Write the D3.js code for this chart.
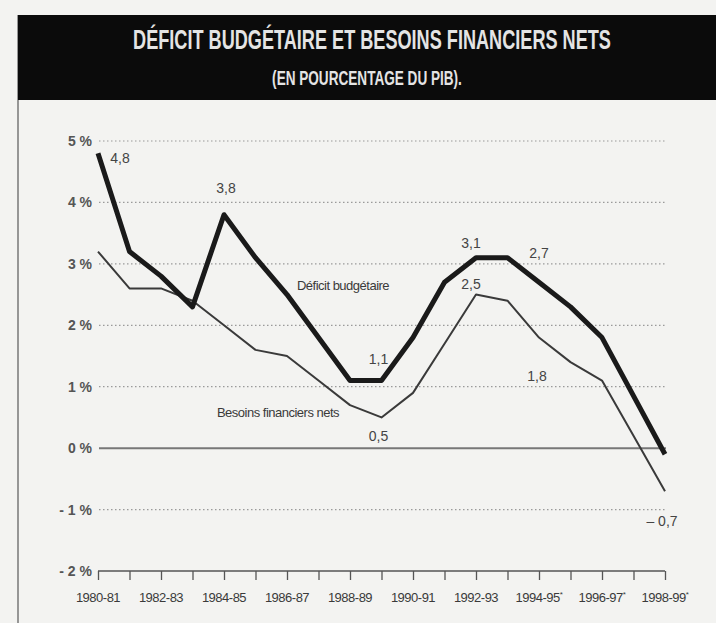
<!DOCTYPE html>
<html lang="fr">
<head>
<meta charset="UTF-8">
<title>Déficit budgétaire et besoins financiers nets</title>
<script src="https://d3js.org/d3.v7.min.js"></script>
<style>
  body { margin: 0; background: #f3f3f1; }
  svg { display: block; }
  .lbl { font-family: "Liberation Sans Narrow", "Arial Narrow", "Liberation Sans", sans-serif; fill: #3a3a3a; }
</style>
</head>
<body>
<div id="chart"></div>
<script>
const periods = ["1980-81","1981-82","1982-83","1983-84","1984-85","1985-86","1986-87","1987-88","1988-89","1989-90",
                 "1990-91","1991-92","1992-93","1993-94","1994-95","1995-96","1996-97","1997-98","1998-99"];
const provisional = ["1994-95","1996-97","1998-99"];
const deficit = [4.8, 3.2, 2.8, 2.3, 3.8, 3.1, 2.5, 1.8, 1.1, 1.1, 1.8, 2.7, 3.1, 3.1, 2.7, 2.3, 1.8, 0.85, -0.1];
const besoins = [3.2, 2.6, 2.6, 2.4, 2.0, 1.6, 1.5, 1.1, 0.7, 0.5, 0.9, 1.7, 2.5, 2.4, 1.8, 1.4, 1.1, 0.2, -0.7];
const yTicks = [5, 4, 3, 2, 1, 0, -1, -2];
// value labels: [period, value, text]
const deficitLabels = [["1980-81", 4.8, "4,8"], ["1984-85", 3.8, "3,8"], ["1989-90", 1.1, "1,1"], ["1992-93", 3.1, "3,1"], ["1994-95", 2.7, "2,7"]];
const besoinsLabels = [["1989-90", 0.5, "0,5"], ["1992-93", 2.5, "2,5"], ["1994-95", 1.8, "1,8"], ["1998-99", -0.7, "– 0,7"]];

const w = 716, h = 623;
const svg = d3.select("#chart").append("svg").attr("width", w).attr("height", h);

// left border of the page
svg.append("line").attr("x1", 18).attr("x2", 18).attr("y1", 15).attr("y2", h)
   .attr("stroke", "#777").attr("stroke-width", 1.5);

// title bar, condensed headline squeezed to the width seen in the print
svg.append("rect").attr("x", 18).attr("y", 15).attr("width", w - 18).attr("height", 85).attr("fill", "#0b0b0b");
function squeezed(txt, cx, cy, size, width) {
  const g = svg.append("g");
  const t = g.append("text").attr("class", "lbl").attr("x", 0).attr("y", 0)
    .attr("text-anchor", "middle").style("font-size", size + "px").style("font-weight", "bold")
    .style("fill", "#e4e4e4").text(txt);
  const sx = width / t.node().getComputedTextLength();
  g.attr("transform", "translate(" + cx + "," + cy + ") scale(" + sx + ",1)");
}
squeezed("DÉFICIT BUDGÉTAIRE ET BESOINS FINANCIERS NETS", 372, 49, 28, 478);
squeezed("(EN POURCENTAGE DU PIB).", 367, 85, 20, 190);

const x = d3.scalePoint().domain(periods).range([98, 665]);
const y = d3.scaleLinear().domain([-2, 5]).range([571, 141]);

// gridlines
svg.append("g").selectAll("line")
  .data(yTicks.filter(d => d !== 0 && d !== -2))
  .join("line")
  .attr("x1", 99).attr("x2", 666)
  .attr("y1", d => y(d)).attr("y2", d => y(d))
  .attr("stroke", "#9a9a9a").attr("stroke-width", 1.2).attr("stroke-dasharray", "1.5,2.5");

svg.append("line").attr("x1", 99).attr("x2", 666).attr("y1", y(0)).attr("y2", y(0))
   .attr("stroke", "#777").attr("stroke-width", 2);

// y labels
svg.append("g").selectAll("text").data(yTicks).join("text")
  .attr("class", "lbl").attr("x", 92).attr("y", d => y(d) + 5)
  .attr("text-anchor", "end").style("font-size", "14px").style("font-weight", "bold").style("fill", "#555")
  .text(d => (d < 0 ? "- " + Math.abs(d) : d) + " %");

// x axis
const xAxis = d3.axisBottom(x).tickSize(9).tickFormat("");
const gx = svg.append("g").attr("transform", "translate(0," + y(-2) + ")").call(xAxis);
gx.select(".domain").attr("d", "M98,0H665").attr("stroke", "#555").attr("stroke-width", 1.5);
gx.selectAll(".tick line").attr("stroke", "#555").attr("stroke-width", 1.3);

const xl = svg.append("g").selectAll("text")
  .data(periods.filter((d, i) => i % 2 === 0))
  .join("text")
  .attr("class", "lbl").attr("x", d => x(d)).attr("y", 602)
  .attr("text-anchor", "middle").style("font-size", "13px").style("letter-spacing", "-0.5px");
xl.append("tspan").text(d => d);
xl.filter(d => provisional.includes(d)).append("tspan")
  .attr("dy", -5).style("font-size", "8px").text("*");

// lines
const line = d3.line().x((d, i) => x(periods[i])).y(d => y(d));
svg.append("path").datum(besoins).attr("d", line)
   .attr("fill", "none").attr("stroke", "#3a3a3a").attr("stroke-width", 2).attr("stroke-linejoin", "round");
svg.append("path").datum(deficit).attr("d", line)
   .attr("fill", "none").attr("stroke", "#1a1a1a").attr("stroke-width", 5).attr("stroke-linejoin", "round");

// value labels
const offsets = {
  "4,8": [22, 10], "3,8": [2, -22], "1,1": [-3, -17], "3,1": [-5, -10], "2,7": [0, -24],
  "0,5": [-3, 24], "2,5": [-5, -6], "1,8": [-2, 43], "– 0,7": [-3, 35]
};
const allLabels = deficitLabels.concat(besoinsLabels);
svg.append("g").selectAll("text").data(allLabels).join("text")
  .attr("class", "lbl")
  .attr("x", d => x(d[0]) + offsets[d[2]][0])
  .attr("y", d => y(d[1]) + offsets[d[2]][1])
  .attr("text-anchor", "middle").style("font-size", "14px").style("fill", "#444")
  .text(d => d[2]);

// series names
svg.append("text").attr("class", "lbl").attr("x", 343).attr("y", 290)
   .attr("text-anchor", "middle").style("font-size", "13px").style("letter-spacing", "-0.5px")
   .text("Déficit budgétaire");
svg.append("text").attr("class", "lbl").attr("x", 278).attr("y", 417)
   .attr("text-anchor", "middle").style("font-size", "13px").style("letter-spacing", "-0.5px")
   .text("Besoins financiers nets");
</script>
</body>
</html>
